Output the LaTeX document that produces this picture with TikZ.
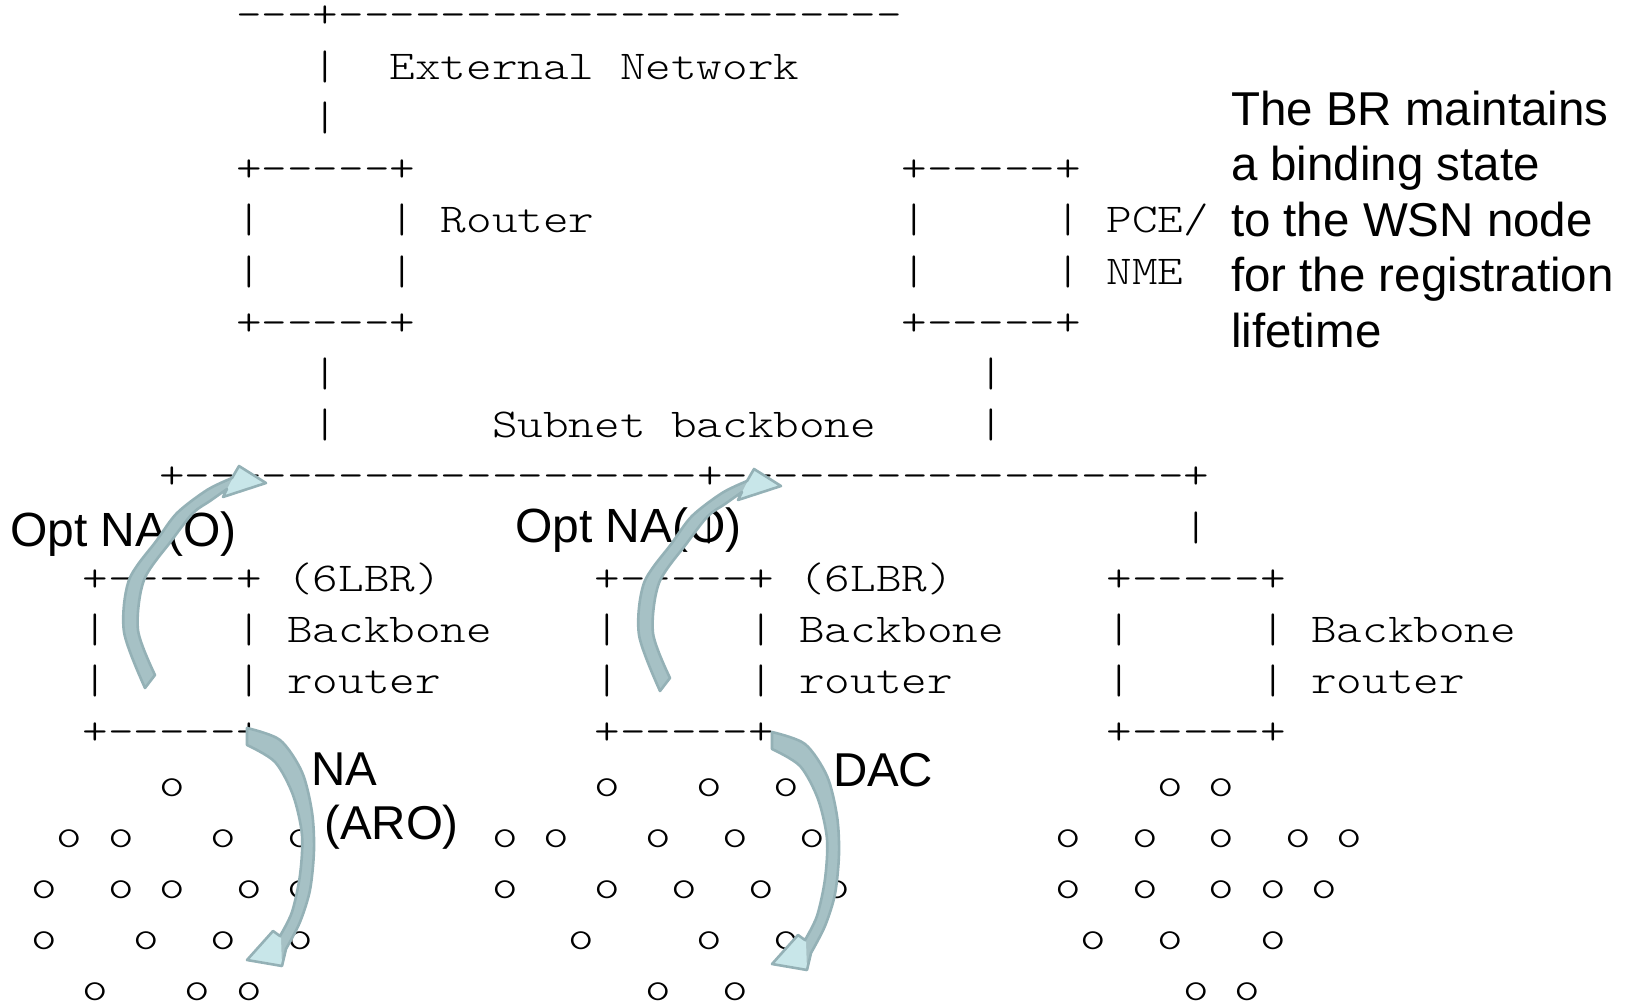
\documentclass[tikz,border=0pt]{standalone}
\usepackage{fontspec}
\setmonofont[FakeStretch=1.19]{lmmonolt10-regular.otf}
\newfontfamily\sansf{Liberation Sans}
\definecolor{arrline}{RGB}{148,177,182}
\definecolor{arrbody}{RGB}{166,193,197}
\definecolor{arrhead}{RGB}{200,230,233}
\tikzset{
  asc/.style={font=\ttfamily\fontsize{41}{41}\selectfont, anchor=base west, inner sep=0pt, outer sep=0pt},
  sansl/.style={font=\sansf\fontsize{47.5}{54}\selectfont, anchor=base west, inner sep=0pt, outer sep=0pt, align=left},
  blockarrow/.style={fill=arrbody},
  blockhead/.style={fill=arrhead},
  blockedge/.style={draw=arrline, line width=2.6pt, line join=round}
}
\newcommand\ascat[4]{\node[asc] (#1) at ({31.2+25.6*(#2)},{28+51.2*(#3)}) {#4};}
\def\upArrowPath{plot[smooth] coordinates {(145,688) (124,632) (129,580) (157,540) (177,513) (207,490) (232,478)} -- (239,466) -- (266,483) -- (223,497) -- plot[smooth] coordinates {(227,489) (210,501) (193,513) (172,540) (144,580) (138,630) (155,675)} -- cycle}
\def\upHeadPath{(239,466) -- (266,483) -- (223,497) -- cycle}
\def\downArrowPath{plot[smooth] coordinates {(247,728) (280,740) (302,772) (312,812) (314,850) (310,890) (300,922) (286,949)} -- (282,966) -- (247,960) -- (273,931) -- plot[smooth] coordinates {(280,936) (292,912) (300,875) (302,835) (293,795) (275,762) (247,745)} -- cycle}
\def\downHeadPath{(282,966) -- (247,960) -- (273,931) -- (281,938) -- cycle}
\begin{document}
\begin{tikzpicture}[x=1pt,y=-1pt]
\useasboundingbox (0,0) rectangle (1625,1006);
% ---------------- ASCII art ----------------
\ascat{r0c8}{8}{0}{---+----------------------}
\ascat{r1c11}{11}{1}{|}
\ascat{r1c14}{14}{1}{External}
\ascat{r1c23}{23}{1}{Network}
\ascat{r2c11}{11}{2}{|}
\ascat{r3c8}{8}{3}{+-----+}
\ascat{r3c34}{34}{3}{+-----+}
\ascat{r4c8}{8}{4}{|}
\ascat{r4c14}{14}{4}{|}
\ascat{r4c16}{16}{4}{Router}
\ascat{r4c34}{34}{4}{|}
\ascat{r4c40}{40}{4}{|}
\ascat{r4c42}{42}{4}{PCE/}
\ascat{r5c8}{8}{5}{|}
\ascat{r5c14}{14}{5}{|}
\ascat{r5c34}{34}{5}{|}
\ascat{r5c40}{40}{5}{|}
\ascat{r5c42}{42}{5}{NME}
\ascat{r6c8}{8}{6}{+-----+}
\ascat{r6c34}{34}{6}{+-----+}
\ascat{r7c11}{11}{7}{|}
\ascat{r7c37}{37}{7}{|}
\ascat{r8c11}{11}{8}{|}
\ascat{r8c18}{18}{8}{Subnet}
\ascat{r8c25}{25}{8}{backbone}
\ascat{r8c37}{37}{8}{|}
\ascat{r9c5}{5}{9}{+--------------------+------------------+}
\ascat{r10c26}{26}{10}{|}
\ascat{r10c45}{45}{10}{|}
\foreach \b in {2,22,42}{
  \pgfmathtruncatemacro{\e}{\b+6}
  \ascat{r11c\b}{\b}{11}{+-----+}
  \ascat{r12c\b}{\b}{12}{|}
  \ascat{r12c\e}{\e}{12}{|}
  \ascat{r13c\b}{\b}{13}{|}
  \ascat{r13c\e}{\e}{13}{|}
  \ascat{r14c\b}{\b}{14}{+-----+}
}
\ascat{r11c10}{10}{11}{(6LBR)}
\ascat{r11c30}{30}{11}{(6LBR)}
\ascat{r12c10}{10}{12}{Backbone}
\ascat{r12c30}{30}{12}{Backbone}
\ascat{r12c50}{50}{12}{Backbone}
\ascat{r13c10}{10}{13}{router}
\ascat{r13c30}{30}{13}{router}
\ascat{r13c50}{50}{13}{router}
% sensor nodes
\foreach \c in {5,22,26,29,44,46}{\ascat{o15c\c}{\c}{15}{o}}
\foreach \c in {1,3,7,10,18,20,24,27,30,40,43,46,49,51}{\ascat{o16c\c}{\c}{16}{o}}
\foreach \c in {0,3,5,8,10,18,22,25,28,31,40,43,46,48,50}{\ascat{o17c\c}{\c}{17}{o}}
\foreach \c in {0,4,7,10,21,26,29,41,44,48}{\ascat{o18c\c}{\c}{18}{o}}
\foreach \c in {2,6,8,24,27,45,47}{\ascat{o19c\c}{\c}{19}{o}}
% ---------------- overlaid sans text ----------------
\node[sansl, font=\sansf\fontsize{48}{54}\selectfont] (optA) at (10,546) {Opt NA(O)};
\node[sansl, font=\sansf\fontsize{48}{54}\selectfont] (optB) at (515,542) {Opt NA(O)};
% multi-line nodes: base anchor is the baseline of the last line
\node[sansl] (na) at (311,839) {NA\\\hspace*{0.278em}(ARO)};
\node[sansl] (dac) at (833,786) {DAC};
\node[sansl, font=\sansf\fontsize{47.5}{55.5}\selectfont] (note) at (1231,347)
  {The BR maintains\\a binding state\\to the WSN node\\for the registration\\lifetime};
% ---------------- block arrows ----------------
\foreach \dx/\dy in {0/0,515/3}{
  \begin{scope}[shift={(\dx,\dy)}]
    \fill[blockarrow] \upArrowPath;
    \fill[blockhead] \upHeadPath;
    \draw[blockedge] \upArrowPath;
  \end{scope}
}
\foreach \dx/\dy in {0/0,525/4}{
  \begin{scope}[shift={(\dx,\dy)}]
    \fill[blockarrow] \downArrowPath;
    \fill[blockhead] \downHeadPath;
    \draw[blockedge] \downArrowPath;
  \end{scope}
}
\end{tikzpicture}
\end{document}
